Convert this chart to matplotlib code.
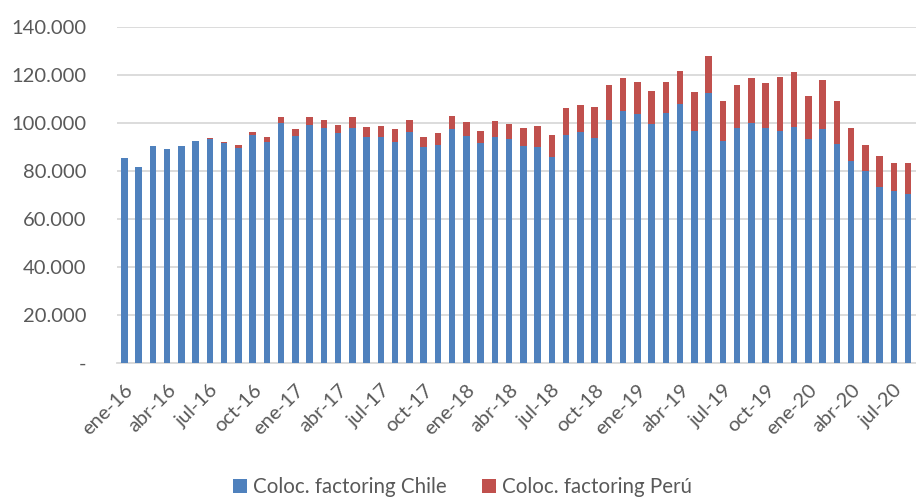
import matplotlib
matplotlib.use("Agg")
import matplotlib.pyplot as plt
import matplotlib.transforms as mtransforms
from matplotlib.ticker import FuncFormatter

plt.rcParams["font.family"] = ["Lato", "DejaVu Sans"]

months = ["ene", "feb", "mar", "abr", "may", "jun",
          "jul", "ago", "sep", "oct", "nov", "dic"]
labels = [f"{m}-{y}" for y in range(16, 21) for m in months][:56]

# colocaciones factoring Chile (bloque azul)
chile = [85500, 81800, 90400, 89300, 90400, 92600, 93200, 91500, 89600, 94850,
         92100, 99860, 94440, 99300, 97780, 95690, 98060, 94310, 94310, 92080,
         96110, 89860, 90690, 97360, 94440, 91530, 94200, 93470, 90420, 90140,
         85690, 95000, 96110, 93610, 101390, 105140, 103890, 99720, 104030, 107780,
         96810, 112360, 92360, 98060, 99860, 97780, 96670, 98470, 93190, 97360,
         91110, 84310, 79860, 73470, 71530, 70280]

# total (Chile + Perú), tope de la barra roja
total = [85500, 81800, 90400, 89300, 90400, 92600, 93750, 92100, 90970, 96400,
         94030, 102500, 97360, 102360, 101110, 99030, 102360, 98470, 98890, 97360,
         101250, 94310, 95690, 102920, 100280, 96670, 100760, 99440, 97780, 98610,
         95000, 106390, 107360, 106670, 115830, 118750, 117080, 113330, 116940, 121810,
         112920, 128060, 109030, 115690, 118610, 116810, 119030, 121110, 111390, 117920,
         109170, 97920, 90830, 86390, 83470, 83330]

peru = [t - c for t, c in zip(total, chile)]

fig = plt.figure(figsize=(9.16, 4.98), dpi=100)
ax = fig.add_axes([0.128, 0.271, 0.872, 0.675])

x = list(range(len(labels)))
ax.bar(x, chile, width=0.45, color="#4F81BD", label="Coloc. factoring Chile", zorder=3)
ax.bar(x, peru, width=0.45, bottom=chile, color="#C0504D",
       label="Coloc. factoring Perú", zorder=3)

ax.set_ylim(0, 140000)
ax.set_yticks(range(0, 140001, 20000))
ax.yaxis.set_major_formatter(FuncFormatter(
    lambda v, p: "-" if v == 0 else f"{int(v):,}".replace(",", ".")))
ax.set_xlim(-0.5, 55.55)
ax.set_xticks(x[::3])
ax.set_xticklabels(labels[::3], rotation=45, ha="right", rotation_mode="anchor")

# desplazar etiquetas del eje x un poco a la derecha
offset = mtransforms.ScaledTranslation(6 / 100, 0, fig.dpi_scale_trans)
for lab in ax.get_xticklabels():
    lab.set_transform(lab.get_transform() + offset)

ax.grid(axis="y", color="#d9d9d9", linewidth=1.3, zorder=0)
for s in ["top", "right", "left"]:
    ax.spines[s].set_visible(False)
ax.spines["bottom"].set_color("#d9d9d9")
ax.spines["bottom"].set_linewidth(1.3)
ax.tick_params(axis="both", length=0, labelsize=14.5, labelcolor="#595959")
ax.tick_params(axis="y", pad=22)
ax.tick_params(axis="x", pad=13)

fig.legend(loc="lower center", bbox_to_anchor=(0.505, -0.035), ncol=2, frameon=False,
           fontsize=14.8, labelcolor="#595959", handlelength=0.7, handleheight=0.7,
           handletextpad=0.3, columnspacing=1.7)

fig.savefig("out.png", dpi=100)
